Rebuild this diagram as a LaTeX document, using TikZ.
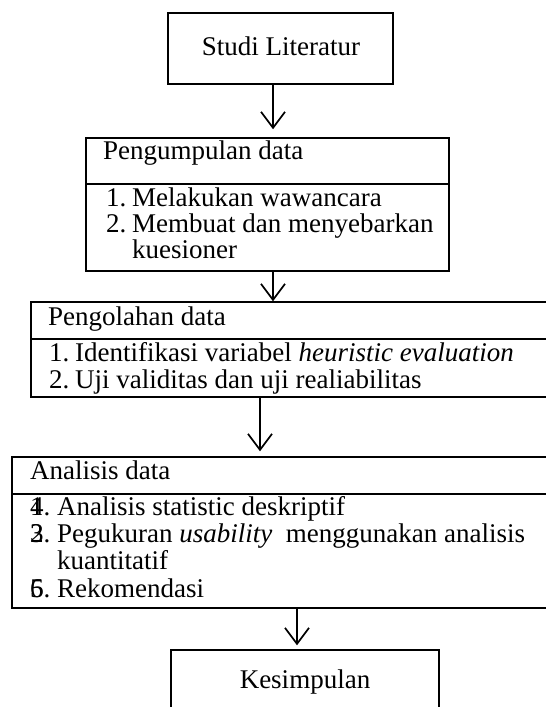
\documentclass[tikz,border=0pt]{standalone}
\usepackage{fontspec}
\setmainfont{Liberation Serif}
\usetikzlibrary{arrows.meta}
\begin{document}
\begin{tikzpicture}[x=1pt,y=-1pt,
  box/.style={draw, line width=1.5pt, rectangle, inner sep=0pt},
  txt/.style={anchor=base west, inner sep=0pt, font=\fontsize{27}{27}\selectfont},
  ctxt/.style={anchor=base, inner sep=0pt, font=\fontsize{27}{27}\selectfont},
  arr/.style={line width=1.7pt, -{Straight Barb[length=16pt,width=24pt,line width=1.7pt]}},
  divider/.style={line width=1.5pt}]
\useasboundingbox (0,0) rectangle (546,707);

% boxes
\node[box, minimum width=225pt, minimum height=71pt] (studi) at (280.5,48.5) {};
\node[box, minimum width=363pt, minimum height=133pt] (pkump) at (267.5,204.5) {};
\node[box, minimum width=522pt, minimum height=95pt] (polah) at (292,349.5) {};
\node[box, minimum width=541pt, minimum height=151pt] (anal) at (282.5,532.5) {};
\node[box, minimum width=268pt, minimum height=64pt] (kes) at (305,682) {};

% dividers
\coordinate (d1) at (0,184);
\coordinate (d2) at (0,339);
\coordinate (d3) at (0,494);
\draw[divider] (pkump.west |- d1) -- (pkump.east |- d1);
\draw[divider] (polah.west |- d2) -- (polah.east |- d2);
\draw[divider] (anal.west |- d3) -- (anal.east |- d3);

% texts
\node[ctxt] (tstudi) at (281,55) {Studi Literatur};

\node[txt] (tpk) at (103,159) {Pengumpulan data};
\node[txt] (pk1n) at (106,206) {1.};
\node[txt] (pk1) at (132,206) {Melakukan wawancara};
\node[txt] (pk2n) at (106,232) {2.};
\node[txt] (pk2) at (132,232) {Membuat dan menyebarkan};
\node[txt] (pk2b) at (132,258) {kuesioner};

\node[txt] (tpo) at (48,325) {Pengolahan data};
\node[txt] (po1n) at (49,361) {1.};
\node[txt] (po1) at (75,361) {Identifikasi variabel \textit{heuristic evaluation}};
\node[txt] (po2n) at (49,388) {2.};
\node[txt] (po2) at (75,388) {Uji validitas dan uji realiabilitas};

\node[txt] (tan) at (30,479) {Analisis data};
\node[txt] (an1n) at (30,515) {\makebox[0pt][l]{1}4.};
\node[txt] (an1) at (57,515) {Analisis statistic deskriptif};
\node[txt] (an2n) at (30,542) {\makebox[0pt][l]{2}3.};
\node[txt] (an2) at (57,542) {Pegukuran \textit{usability}\ \ menggunakan analisis};
\node[txt] (an2b) at (57,569) {kuantitatif};
\node[txt] (an3n) at (30,597) {\makebox[0pt][l]{6}5.};
\node[txt] (an3) at (57,597) {Rekomendasi};

\node[ctxt] (tkes) at (305,688) {Kesimpulan};

% arrows
\draw[arr, shorten >=8pt] ([xshift=-7.5pt]studi.south) -- ([xshift=-7.5pt]studi.south |- pkump.north);
\draw[arr] ([xshift=5.5pt]pkump.south) -- ([xshift=5.5pt]pkump.south |- polah.north);
\draw[arr, shorten >=5pt] ([xshift=-7.5pt]pkump.south |- polah.south) -- ([xshift=-7.5pt]pkump.south |- anal.north);
\draw[arr, shorten >=4pt] (kes.north |- anal.south) ++(-8pt,0) coordinate (a4s) (a4s) -- (a4s |- kes.north);
\end{tikzpicture}
\end{document}
